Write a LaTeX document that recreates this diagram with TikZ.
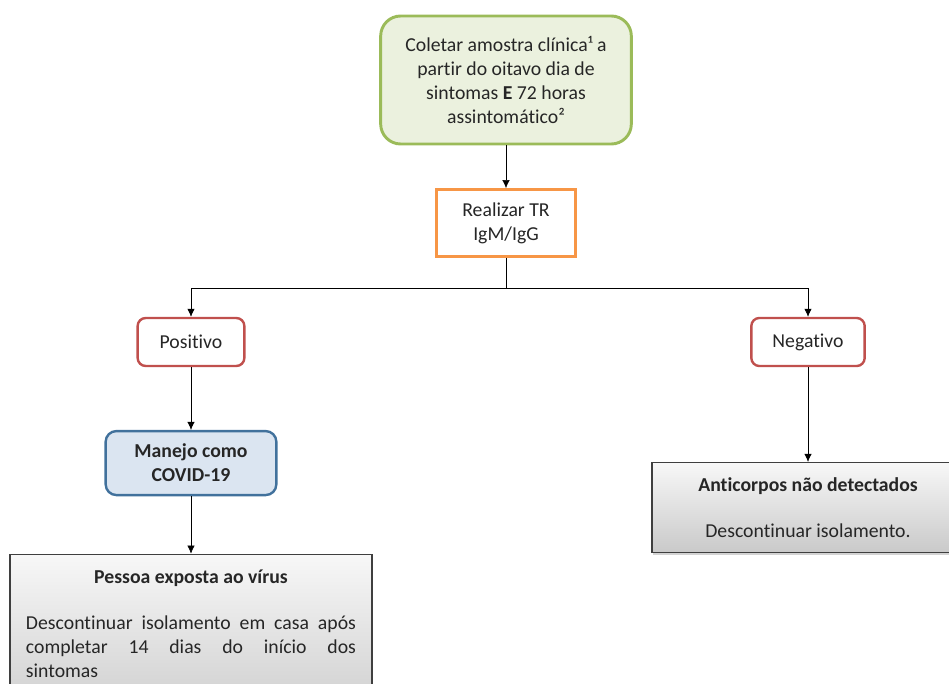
\documentclass[tikz,border=0pt]{standalone}
\usepackage{fontspec}
\setmainfont[Ligatures=NoCommon]{Carlito}
\usetikzlibrary{arrows.meta,positioning,shadows}
\definecolor{verdeborda}{HTML}{9BBB59}
\definecolor{verdefundo}{HTML}{EBF1DE}
\definecolor{laranja}{HTML}{F79646}
\definecolor{vermelho}{HTML}{C0504D}
\definecolor{azulborda}{HTML}{41719C}
\definecolor{azulfundo}{HTML}{DBE5F1}
\definecolor{cinzaborda}{HTML}{3F3F3F}
\tikzset{
    -{Latex[length=6pt,width=5.5pt]},auto,node distance =1 cm and 1 cm,line width=0.9pt,
    every node/.style={font=\fontsize{14.8}{18}\selectfont, text=black!85},
    inicio/.style ={rectangle, rounded corners=15pt, draw=verdeborda, fill=verdefundo, line width=2.2pt, minimum width=188pt, minimum height=96pt, align=center},
    exame/.style = {rectangle, draw=laranja, fill=white, line width=2.2pt, minimum width=104pt, minimum height=50pt, align=center},
    resultado/.style = {rectangle, rounded corners=6pt, draw=vermelho, fill=white, line width=1.8pt, minimum height=36pt},
    manejo/.style = {rectangle, rounded corners=8pt, draw=azulborda, fill=azulfundo, line width=1.8pt, minimum width=128pt, minimum height=48pt, align=center, font=\fontsize{14.8}{18}\selectfont\bfseries},
    conduta/.style = {rectangle, draw=cinzaborda, line width=1.1pt, drop shadow={shadow xshift=1pt, shadow yshift=-2pt, opacity=0.35}, top color=gray!6, bottom color=gray!42}
}
\begin{document}
\begin{tikzpicture}[x=0.75pt, y=-0.75pt]
        \useasboundingbox (0,0) rectangle (949,684);
        \node[inicio] (coleta) at (506, 80) {Coletar amostra clínica¹ a\\partir do oitavo dia de\\sintomas \textbf{E} 72 horas\\assintomático²};
        \node[exame] (teste) [below =32pt of coleta] {Realizar TR\\IgM/IgG};
        \coordinate[below =23pt of teste] (ramo);
        \node[resultado, minimum width=80pt] (positivo) at (191, 342) {Positivo};
        \node[resultado, minimum width=85pt] (negativo) at (808, 342) {Negativo};
        \node[manejo] (covid) [below =47pt of positivo] {Manejo como\\COVID-19};
        \node[conduta, inner xsep=12pt, inner ysep=12pt, align=center] (pessoa) [below =43pt of covid] {\textbf{Pessoa exposta ao vírus}\\[16pt]
            \hbox to 247.5pt{Descontinuar\hfill isolamento\hfill em\hfill casa\hfill após}\\
            \hbox to 247.5pt{completar\hfill 14\hfill dias\hfill do\hfill início\hfill dos}\\
            \hbox to 247.5pt{sintomas\hfill}\\[12pt]};
        \node[conduta, minimum width=234pt, minimum height=67.5pt, align=center] (anticorpos) [below =71pt of negativo] {\textbf{Anticorpos não detectados}\\[16pt]Descontinuar isolamento.};

        \path (coleta) edge (teste);
        \draw[-] (teste) -- (ramo);
        \draw (ramo) -| (positivo);
        \draw (ramo) -| (negativo);
        \path (positivo) edge (covid);
        \path (covid) edge (pessoa);
        \path (negativo) edge (anticorpos);
    \end{tikzpicture}
\end{document}
